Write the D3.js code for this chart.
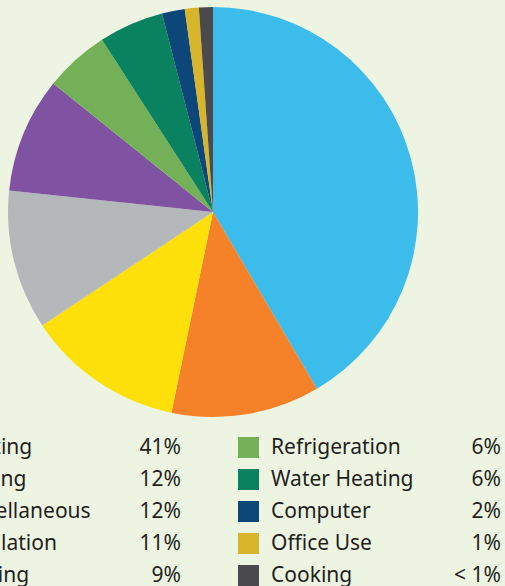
<!DOCTYPE html>
<html lang="en">
<head>
<meta charset="UTF-8">
<title>Energy use pie</title>
<script src="https://d3js.org/d3.v7.min.js"></script>
<style>
    body{
        padding:0;
        margin:0;
        background:#eef4e2;
    }
    #misvg{
        display:block;
    }
    text{
        font-variant-ligatures:none;
    }
</style>
</head>
<body>
<svg id="misvg"></svg>
<script>
    // slice shares (the legend rounds them)
    let categories = ["Lighting", "Cooling", "Miscellaneous", "Ventilation", "Heating",
                      "Refrigeration", "Water Heating", "Computer", "Office Use", "Cooking"]
    let shares = [41.5, 11.7, 12.4, 11.0, 9.1, 5.1, 5.1, 1.8, 1.1, 1.1]
    let pctLabels = ["41%", "12%", "12%", "11%", "9%", "6%", "6%", "2%", "1%", "< 1%"]
    let colores = ["#3bbceb", "#f58128", "#fde00a", "#b4b8bb", "#7f52a2",
                   "#74b058", "#0a8260", "#0d4679", "#d8b62b", "#4b4b4d"]

    let svgw = 505
    let svgh = 586
    let centro = {x:213, y:212}
    let radio = 205
    let fuente = '"Noto Sans", "Open Sans", sans-serif'

    let svg = d3.select("#misvg")
        .attr('width', svgw)
        .attr('height', svgh)

    svg.append('rect')
        .attr('width', svgw)
        .attr('height', svgh)
        .attr('fill', '#eef4e2')

    let data = categories.map((c, i) => ({cat:c, val:shares[i], pct:pctLabels[i], color:colores[i]}))

    let pie = d3.pie()
        .value(d => d.val)
        .sort(null)

    let arco = d3.arc()
        .innerRadius(0)
        .outerRadius(radio)

    svg.append('g')
        .attr('transform', `translate(${centro.x},${centro.y})`)
        .selectAll('path')
        .data(pie(data))
        .enter().append('path')
        .attr('d', arco)
        .attr('fill', d => d.data.color)

    // legend: two columns of five, the left one runs off the page
    let colX = d3.scaleOrdinal().domain([0, 1]).range([-82, 238])
    let filaY = d3.scaleLinear().domain([0, 4]).range([437, 565])

    let leyenda = svg.append('g')
        .selectAll('g')
        .data(data)
        .enter().append('g')
        .attr('transform', (d, i) => `translate(${colX(Math.floor(i / 5))},${filaY(i % 5)})`)

    leyenda.append('rect')
        .attr('width', 21)
        .attr('height', 21)
        .attr('fill', d => d.color)

    leyenda.append('text')
        .attr('x', 33)
        .attr('y', 17)
        .attr('font-family', fuente)
        .attr('font-size', 21)
        .attr('fill', '#231f20')
        .text(d => d.cat)

    leyenda.append('text')
        .attr('x', 263)
        .attr('y', 17)
        .attr('text-anchor', 'end')
        .attr('font-family', fuente)
        .attr('font-size', 21)
        .attr('fill', '#231f20')
        .text(d => d.pct)
</script>
</body>
</html>
